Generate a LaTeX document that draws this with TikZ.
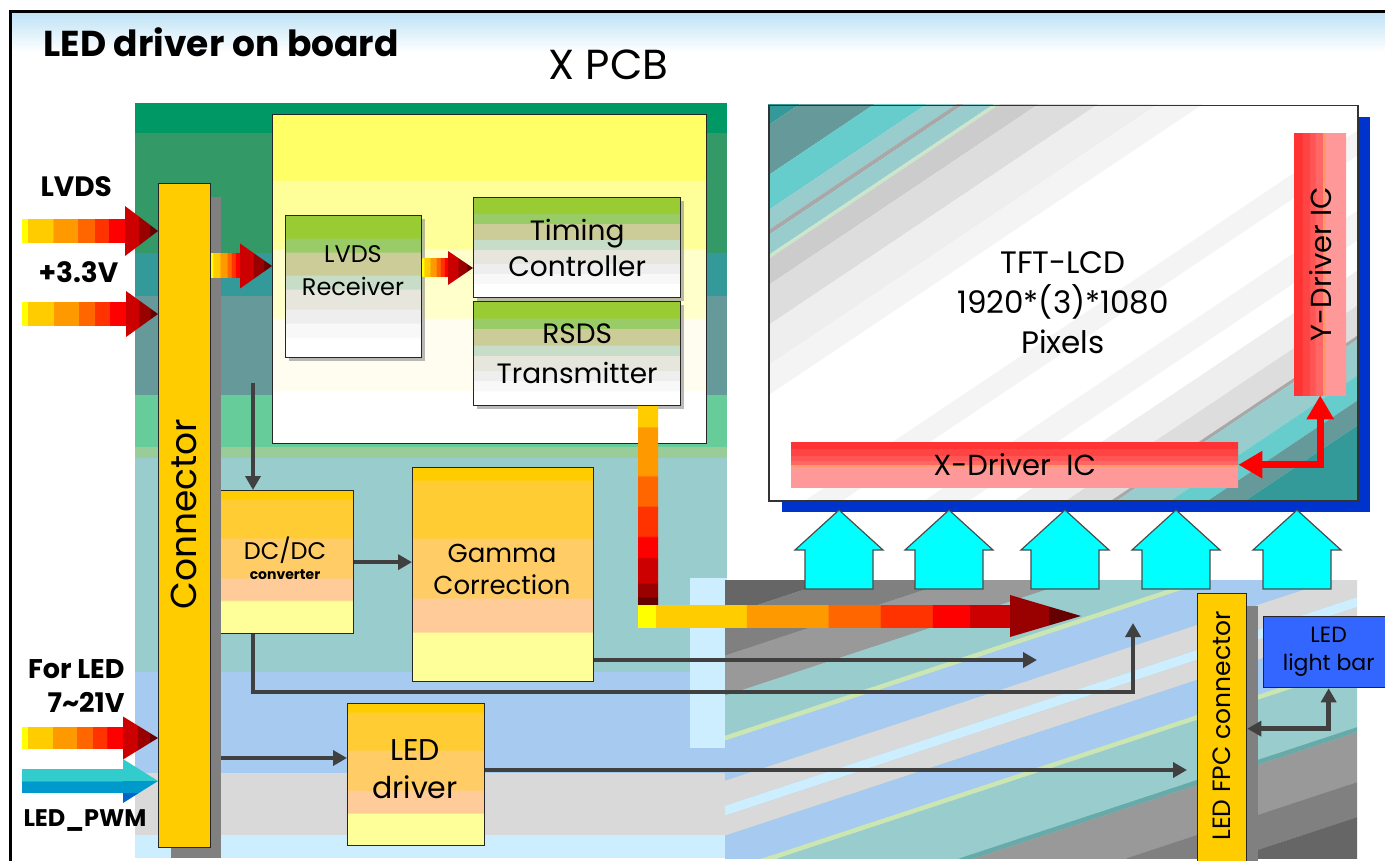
\documentclass[tikz,border=0pt]{standalone}
\usepackage{fontspec}
\setmainfont{Poppins}
\usepackage{graphicx}
\usetikzlibrary{arrows.meta,calc,shadows}

\definecolor{pcbA}{HTML}{009966}
\definecolor{pcbB}{HTML}{339966}
\definecolor{pcbC}{HTML}{339999}
\definecolor{pcbD}{HTML}{669999}
\definecolor{pcbE}{HTML}{66CC99}
\definecolor{pcbF}{HTML}{99CC99}
\definecolor{pcbG}{HTML}{99CCCC}
\definecolor{pcbH}{HTML}{A6CAF0}
\definecolor{pcbI}{HTML}{D9D9D9}
\definecolor{pcbJ}{HTML}{CCEEFF}
\definecolor{conny}{HTML}{FFCC00}
\definecolor{shgray}{HTML}{808080}
\definecolor{darkline}{HTML}{404040}
\definecolor{cyanA}{HTML}{00FFFF}
\definecolor{panelblue}{HTML}{0033CC}
\definecolor{lbar}{HTML}{3366FF}
\definecolor{hdrA}{HTML}{BFE3F6}
\definecolor{hdrB}{HTML}{E8EEF0}
\definecolor{ob1}{HTML}{FFCC00}
\definecolor{ob2}{HTML}{FFCC33}
\definecolor{ob3}{HTML}{FFCC66}
\definecolor{ob4}{HTML}{FFCC99}
\definecolor{ob5}{HTML}{FFFF99}
\definecolor{gb1}{HTML}{99CC33}
\definecolor{gb2}{HTML}{99CC66}
\definecolor{gb3}{HTML}{CCCC99}
\definecolor{gb4}{HTML}{C8DDC8}
\definecolor{gb5}{HTML}{E6E6DC}
\definecolor{gb6}{HTML}{EEEEEE}
\definecolor{gb7}{HTML}{F8F8F8}
\definecolor{yb1}{HTML}{FFFF66}
\definecolor{yb2}{HTML}{FFFF99}
\definecolor{yb3}{HTML}{FFFFCC}
\definecolor{yb4}{HTML}{FFFCF0}
\definecolor{rd1}{HTML}{FF3333}
\definecolor{rd2}{HTML}{FF4444}
\definecolor{rd3}{HTML}{FF5555}
\definecolor{rd4}{HTML}{FF6666}
\definecolor{rd5}{HTML}{FF9966}
\definecolor{rd6}{HTML}{FF9999}
\definecolor{fa0}{HTML}{FFFF00}
\definecolor{fa1}{HTML}{FFCC00}
\definecolor{fa2}{HTML}{FF9900}
\definecolor{fa3}{HTML}{FF6600}
\definecolor{fa4}{HTML}{FF3300}
\definecolor{fa5}{HTML}{FF0000}
\definecolor{fa6}{HTML}{CC0000}
\definecolor{fa7}{HTML}{990000}
\definecolor{fa8}{HTML}{660000}
\definecolor{pw1}{HTML}{33CCCC}
\definecolor{pw2}{HTML}{0099CC}
\definecolor{pw3}{HTML}{0066CC}
% right region stripes
\definecolor{srA}{HTML}{666666}
\definecolor{srB}{HTML}{808080}
\definecolor{srC}{HTML}{999999}
\definecolor{srD}{HTML}{99CCCC}
\definecolor{srE}{HTML}{CCE6B3}
\definecolor{srF}{HTML}{A6CAF0}
\definecolor{srG}{HTML}{D9D9D9}
\definecolor{srH}{HTML}{CCEEFF}
\definecolor{srI}{HTML}{66AAAA}
% panel stripes
\definecolor{ptA}{HTML}{339999}
\definecolor{ptB}{HTML}{669999}
\definecolor{ptC}{HTML}{66CCCC}
\definecolor{ptD}{HTML}{99CCCC}
\definecolor{ptE}{HTML}{A8A8A8}
\definecolor{ptF}{HTML}{CCE6CC}
\definecolor{ptG}{HTML}{CCCCCC}
\definecolor{ptH}{HTML}{DDDDDD}
\definecolor{ptI}{HTML}{EEEEEE}
\definecolor{ptJ}{HTML}{F4F4F4}

\pgfdeclareverticalshading{orangebox}{100bp}{color(0bp)=(ob5); color(36.5bp)=(ob5); color(36.6bp)=(ob4); color(44.5bp)=(ob4); color(44.6bp)=(ob3); color(58.5bp)=(ob3); color(58.6bp)=(ob2); color(72bp)=(ob2); color(72.1bp)=(ob1); color(100bp)=(ob1)}
\pgfdeclareverticalshading{greenbox}{100bp}{color(0bp)=(white); color(32bp)=(white); color(32.1bp)=(gb7); color(37bp)=(gb7); color(37.1bp)=(gb6); color(42bp)=(gb6); color(42.1bp)=(gb5); color(49bp)=(gb5); color(49.1bp)=(gb4); color(54bp)=(gb4); color(54.1bp)=(gb3); color(62bp)=(gb3); color(62.1bp)=(gb2); color(67bp)=(gb2); color(67.1bp)=(gb1); color(100bp)=(gb1)}
\pgfdeclareverticalshading{bigy}{100bp}{color(0bp)=(white); color(33bp)=(white); color(33.1bp)=(yb4); color(44bp)=(yb4); color(44.1bp)=(yb3); color(54.5bp)=(yb3); color(54.6bp)=(yb2); color(65bp)=(yb2); color(65.1bp)=(yb1); color(100bp)=(yb1)}
\pgfdeclareverticalshading{xdrv}{100bp}{color(0bp)=(rd6); color(47.5bp)=(rd6); color(47.6bp)=(rd5); color(50bp)=(rd5); color(50.1bp)=(rd4); color(55bp)=(rd4); color(55.1bp)=(rd3); color(60bp)=(rd3); color(60.1bp)=(rd2); color(67.5bp)=(rd2); color(67.6bp)=(rd1); color(100bp)=(rd1)}
\pgfdeclarehorizontalshading{ydrv}{100bp}{color(0bp)=(rd1); color(32.5bp)=(rd1); color(32.6bp)=(rd2); color(40bp)=(rd2); color(40.1bp)=(rd3); color(45bp)=(rd3); color(45.1bp)=(rd4); color(52bp)=(rd4); color(52.1bp)=(rd5); color(55bp)=(rd5); color(55.1bp)=(rd6); color(100bp)=(rd6)}
\pgfdeclarehorizontalshading{fatbody}{100bp}{color(0bp)=(fa0); color(27.5bp)=(fa0); color(27.6bp)=(fa1); color(40bp)=(fa1); color(40.1bp)=(fa2); color(52bp)=(fa2); color(52.1bp)=(fa3); color(60bp)=(fa3); color(60.1bp)=(fa4); color(67bp)=(fa4); color(67.1bp)=(fa5); color(100bp)=(fa5)}
\pgfdeclarehorizontalshading{fathead}{100bp}{color(0bp)=(fa6); color(45bp)=(fa6); color(45.1bp)=(fa7); color(62.5bp)=(fa7); color(62.6bp)=(fa8); color(100bp)=(fa8)}
\pgfdeclarehorizontalshading{bigbody}{100bp}{color(0bp)=(fa0); color(27.3bp)=(fa0); color(27.4bp)=(fa1); color(39.5bp)=(fa1); color(39.6bp)=(fa2); color(50.5bp)=(fa2); color(50.6bp)=(fa3); color(57.5bp)=(fa3); color(57.6bp)=(fa4); color(64.5bp)=(fa4); color(64.6bp)=(fa5); color(69.5bp)=(fa5); color(69.6bp)=(fa6); color(100bp)=(fa6)}
\pgfdeclarehorizontalshading{bighead}{100bp}{color(0bp)=(fa7); color(52bp)=(fa7); color(52.1bp)=(fa8); color(100bp)=(fa8)}
\pgfdeclareverticalshading{vbar}{100bp}{color(0bp)=(fa8); color(27bp)=(fa8); color(27.1bp)=(fa7); color(30.5bp)=(fa7); color(30.6bp)=(fa6); color(36.85bp)=(fa6); color(36.95bp)=(fa5); color(42.15bp)=(fa5); color(42.25bp)=(fa4); color(49.75bp)=(fa4); color(49.85bp)=(fa3); color(57.5bp)=(fa3); color(57.6bp)=(fa2); color(69.7bp)=(fa2); color(69.8bp)=(fa1); color(100bp)=(fa1)}
\pgfdeclareverticalshading{pwbody}{100bp}{color(0bp)=(pw2); color(50bp)=(pw2); color(50.1bp)=(pw1); color(100bp)=(pw1)}
\pgfdeclareverticalshading{pwhead}{100bp}{color(0bp)=(pw3); color(36.5bp)=(pw3); color(36.6bp)=(pw2); color(50bp)=(pw2); color(50.1bp)=(pw1); color(100bp)=(pw1)}

% #1 start coord, #2 tip coord, #3 head length, #4 body half height, #5 head half height, #6 body shading, #7 head shading
\newcommand{\fatarrow}[7]{%
  \shade[shading=#6] let \p1=(#1), \p2=(#2) in (\x1,{\y2-#4pt}) rectangle ({\x2-#3pt},{\y2+#4pt});
  \shade[shading=#7] let \p2=(#2) in ({\x2-#3pt},{\y2+#5pt}) -- (\x2,\y2) -- ({\x2-#3pt},{\y2-#5pt}) -- cycle;
}

\begin{document}
\begin{tikzpicture}[x=1pt,y=-1pt,
  box/.style={draw=black!85, line width=1.3pt, anchor=north west, inner sep=0pt, align=center},
  obox/.style={box, shade, shading=orangebox},
  gbox/.style={box, shade, shading=greenbox, drop shadow={shadow xshift=3pt, shadow yshift=-3pt, fill=black!45, opacity=0.6}},
  darr/.style={draw=darkline, line width=4.5pt, line join=miter, -{Triangle[length=14pt,width=15pt]}},
  darr2/.style={draw=darkline, line width=4.5pt, line join=miter, {Triangle[length=14pt,width=15pt]}-{Triangle[length=14pt,width=15pt]}},
  redarr/.style={draw=red, line width=7pt, line join=miter, {Triangle[length=24pt,width=26pt]}-{Triangle[length=24pt,width=26pt]}},
  lbl/.style={font=\bfseries\fontsize{28}{30}\selectfont},
]
\useasboundingbox (0,0) rectangle (1385,861);
\fill[white] (0,0) rectangle (1385,861);

% header band and frame
\shade[top color=hdrA, middle color=hdrB, bottom color=white] (11.5,13.5) rectangle (1385,52);
\draw[line width=3pt] (10,861) -- (10,12) -- (1385,12);

\node[anchor=base west, font=\bfseries\fontsize{36}{40}\selectfont] (title) at (40,57) {LED driver on board};
\node[anchor=base west, font=\fontsize{42}{44}\selectfont] (xpcb) at (545,80) {X PCB};

% PCB background bands
\foreach \a/\b/\c in {103/133/pcbA, 133/253/pcbB, 253/296/pcbC, 296/395/pcbD, 395/447/pcbE, 447/458/pcbF, 458/672/pcbG, 672/773/pcbH, 773/835/pcbI, 835/858/pcbJ}
  \fill[\c] (135,\a) rectangle (727,\b);
\fill[pcbJ] (690,578) rectangle (727,748);

% lower right striped region
\begin{scope}
  \clip (725,580) rectangle (1357,858);
  \fill[srD] (725,580) rectangle (1357,858);
  \foreach \a/\b/\c in {780/855/srA, 855/895/srB, 895/935/srC, 935/975/srD, 975/980/srE, 980/1020/srF, 1020/1045/srG, 1045/1055/srH, 1055/1075/srG, 1075/1110/srF, 1110/1115/srE, 1115/1175/srD, 1175/1180/srI, 1180/1230/srC, 1230/1265/srB, 1265/1330/srA}
    \fill[\c] (700,{\a-0.33*700}) -- (1400,{\a-0.33*1400}) -- (1400,{\b-0.33*1400}) -- (700,{\b-0.33*700}) -- cycle;
\end{scope}

% TFT-LCD panel
\fill[panelblue] (782,117) rectangle (1370,512);
\begin{scope}
  \clip (768,105) rectangle (1357,500);
  \fill[white] (768,105) rectangle (1357,500);
  \foreach \a/\b/\c in {500/640/ptA, 640/690/ptB, 690/725/ptC, 725/745/ptD, 745/750/ptE, 750/770/ptD, 770/774/ptF, 774/800/ptG, 800/840/ptH, 840/880/ptI, 880/910/ptJ, 1040/1065/ptJ, 1120/1150/ptJ, 1180/1215/ptI, 1215/1245/ptH, 1245/1249/ptE, 1249/1285/ptD, 1285/1310/ptC, 1310/1335/ptB, 1335/1500/ptA}
    \fill[\c] (750,{\a-0.67*750}) -- (1400,{\a-0.67*1400}) -- (1400,{\b-0.67*1400}) -- (750,{\b-0.67*750}) -- cycle;
\end{scope}
\node[draw=black!80, line width=1.5pt, minimum width=589pt, minimum height=395pt, anchor=north west, inner sep=0pt] (panel) at (768,105) {};
\node[align=center, font=\fontsize{31}{40}\selectfont] (tft) at (1063,303) {TFT-LCD\\1920*(3)*1080\\Pixels};

\node[anchor=north west, inner sep=0pt, shade, shading=xdrv, minimum width=447pt, minimum height=45pt, font=\fontsize{29}{30}\selectfont] (xdrv) at (791,442) {X-Driver\ \ IC};
\node[anchor=north west, inner sep=0pt, shade, shading=ydrv, minimum width=52pt, minimum height=262pt] (ydrv) at (1294,133) {};
\node[rotate=90, font=\fontsize{29}{30}\selectfont] (ydrvT) at (ydrv.center) {Y-Driver IC};
\draw[redarr] (ydrv.south) |- (xdrv.east);

% cyan block arrows
\foreach \cx in {839,949,1065,1176,1297}
  \filldraw[fill=cyanA, draw=black!70, line width=1.2pt] (\cx,510) -- ({\cx+44},550) -- ({\cx+34},550) -- ({\cx+34},589) -- ({\cx-34},589) -- ({\cx-34},550) -- ({\cx-44},550) -- cycle;

% LED FPC connector and light bar
\node[fill=shgray, minimum width=49pt, minimum height=270pt, anchor=north west, inner sep=0pt] (fpcsh) at (1209,606) {};
\node[box, fill=conny, minimum width=49pt, minimum height=270pt] (fpc) at (1197,593) {};
\node[rotate=90, font=\fontsize{25}{25}\selectfont] (fpcT) at (1222,726) {LED FPC connector};
\node[box, fill=lbar, minimum width=130pt, minimum height=71pt, font=\fontsize{22}{28}\selectfont] (lbar) at (1263,616) {LED\\light bar};
\draw[darr2] (lbar.south) |- (fpc.east);

% PCB blocks
\node[box, shade, shading=bigy, minimum width=434pt, minimum height=329pt] (big) at (272,114) {};
\node[gbox, minimum width=136pt, minimum height=142pt] (rcv) at (285,215) {};
\node[align=center, font=\fontsize{24}{33}\selectfont] (rcvT) at (353,271) {LVDS\\Receiver};
\node[gbox, minimum width=207pt, minimum height=100pt, font=\fontsize{28}{36}\selectfont] (tim) at (473,197) {Timing\\Controller};
\node[gbox, minimum width=207pt, minimum height=104pt, font=\fontsize{28}{40}\selectfont] (rsds) at (473,301) {RSDS\\Transmitter};

\node[obox, minimum width=136pt, minimum height=143pt] (dcdc) at (217,490) {};
\node[font=\fontsize{24}{26}\selectfont] (dcdcT) at (285,550) {DC/DC};
\node[font=\bfseries\fontsize{14}{15}\selectfont] (dcdcS) at (285,575) {converter};
\node[obox, minimum width=181pt, minimum height=214pt] (gamma) at (412,467) {};
\node[align=center, font=\fontsize{26}{32}\selectfont] (gammaT) at (502,569) {Gamma\\Correction};
\node[obox, minimum width=137pt, minimum height=142pt] (ledd) at (347,703) {};
\node[align=center, font=\fontsize{30}{38}\selectfont] (leddT) at (415,769) {LED\\driver};

% connector
\node[fill=shgray, minimum width=50pt, minimum height=661pt, anchor=north west, inner sep=0pt] (connsh) at (171,197) {};
\node[box, fill=conny, line width=1.2pt, minimum width=52pt, minimum height=664pt] (conn) at (158,183) {};
\node[rotate=90, font=\fontsize{36}{36}\selectfont] (connT) at (184,514) {Connector};

% input labels
\node[lbl, anchor=base west] (lvdsL) at (37,197) {LVDS};
\node[lbl, anchor=base west] (v33L) at (35,283) {+3.3V};
\node[lbl, anchor=base east, font=\bfseries\fontsize{27}{30}\selectfont] (forL) at (128,678) {For LED};
\node[lbl, anchor=base east, font=\bfseries\fontsize{27}{30}\selectfont] (vL) at (128,712) {7\textasciitilde 21V};
\node[lbl, anchor=base west, font=\bfseries\fontsize{24}{30}\selectfont] (pwmL) at (20,826) {LED\_PWM};

% fat input arrows
\coordinate (lvdsS) at (22,231);
\coordinate (v33S) at (22,314);
\coordinate (ledS) at (22,738);
\coordinate (pwmS) at (22,781);
\fatarrow{lvdsS}{conn.west |- lvdsS}{33}{11.5}{25}{fatbody}{fathead}
\fatarrow{v33S}{conn.west |- v33S}{32}{11}{23}{fatbody}{fathead}
\fatarrow{ledS}{conn.west |- ledS}{35}{10.5}{21.5}{fatbody}{fathead}
\fatarrow{pwmS}{conn.west |- pwmS}{35}{11.5}{22}{pwbody}{pwhead}

% connector -> receiver, receiver -> timing
\coordinate (c2r) at (272,266);
\fatarrow{conn.east |- c2r}{c2r}{32}{12}{22.5}{fatbody}{fathead}
\coordinate (r2t) at (473,268);
\fatarrow{rcv.east |- r2t}{r2t}{25}{9}{17}{fatbody}{fathead}

% RSDS output bus
\coordinate (bend) at (648,616);
\coordinate (bigtip) at (1081,616);
\shade[shading=vbar] let \p1=(rsds.south), \p2=(bend) in ({\x2-10pt},\y1) rectangle ({\x2+10pt},{\y2+11pt});
\fatarrow{$(bend)+(-10,0)$}{bigtip}{71}{11}{21}{bigbody}{bighead}

% dark connectors
\coordinate (vtop) at (253,383);
\draw[darr] (vtop) -- (vtop |- dcdc.north);
\draw[darr] (dcdc.east) -- (dcdc.east -| gamma.west);
\coordinate (dcturn) at (1133,692);
\coordinate (dcend) at (1133,623);
\draw[darr] (vtop |- dcdc.south) |- (dcturn) -- (dcend);
\coordinate (gend) at (1037,660);
\draw[darr] (gamma.east |- gend) -- (gend);
\coordinate (c2l) at (0,758);
\draw[darr] (connsh.east |- c2l) -- (ledd.west |- c2l);
\coordinate (l2f) at (0,770);
\draw[darr, shorten >=10pt] (ledd.east |- l2f) -- (fpc.west |- l2f);
\end{tikzpicture}
\end{document}
